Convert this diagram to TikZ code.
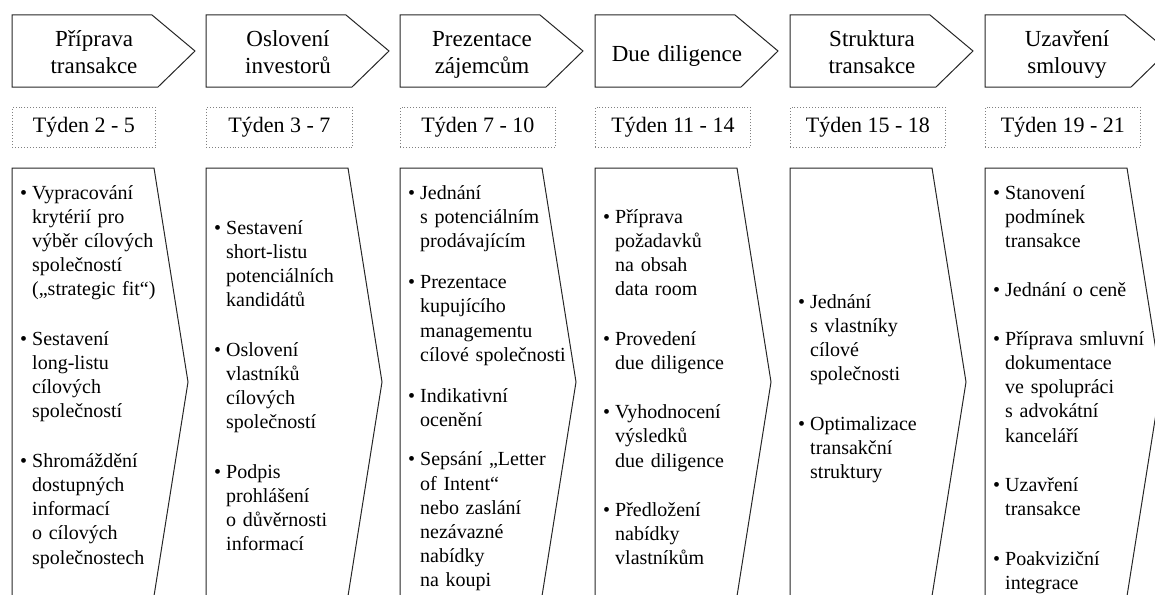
\documentclass[tikz,border=0pt]{standalone}
\usepackage{fontspec}
\setmainfont{Liberation Serif}
% one bullet point, lines broken with \\
\newcommand\itm[1]{\noindent\makebox[12pt][l]{\textbullet}\begin{tabular}[t]{@{}l@{}}#1\end{tabular}\par}
\tikzset{
  krok/.style={draw=black!85, line width=1pt},
  nadpis/.style={font=\fontsize{23}{27}\selectfont, text width=160pt, align=center,
    anchor=base, inner sep=0pt},
  tyden/.style={draw=gray, dotted, line width=0.9pt, minimum height=40pt, anchor=north west,
    inner sep=0pt, font=\fontsize{22}{26}\selectfont},
  obsah/.style={font=\fontsize{20}{24.2}\selectfont, text width=172pt, align=left,
    anchor=base west, inner sep=0pt}
}
\begin{document}
\begin{tikzpicture}[x=1pt,y=-1pt]
        \clip (0,0) rectangle (1155,594);
        % phases, weeks and chevrons
        \foreach \x/\w/\yb/\n/\nad/\tyd in {12/143/47/1/{Příprava\\transakce}/{Týden 2 - 5},
            206/146/47/2/{Oslovení\\investorů}/{Týden 3 - 7},
            400/155/47/3/{Prezentace\\zájemcům}/{Týden 7 - 10},
            595/155/61/4/{Due diligence}/{Týden 11 - 14},
            790/155/47/5/{Struktura\\transakce}/{Týden 15 - 18},
            985/155/47/6/{Uzavření\\smlouvy}/{Týden 19 - 21}} {
          \draw[krok] (\x,15) -- (\x+140,15) -- (\x+183,51) -- (\x+146,87) -- (\x,87) -- cycle;
          \node[nadpis] (h\n) at (\x+82,\yb) {\nad};
          \node[tyden, minimum width=\w pt] (t\n) at (\x,107) {\tyd};
          \draw[krok] (\x,168) -- (\x+142,168) -- (\x+176,382) -- (\x+142,596) -- (\x,596) -- cycle;
        }
        % activities
        \node[obsah] (b1) at (20,199) {%
          \itm{Vypracování\\krytérií pro\\výběr cílových\\společností\\(„strategic fit“)}\vspace{24.2pt}
          \itm{Sestavení\\long-listu\\cílových\\společností}\vspace{24.2pt}
          \itm{Shromáždění\\dostupných\\informací\\o cílových\\společnostech}};
        \node[obsah] (b2) at (214,234) {%
          \itm{Sestavení\\short-listu\\potenciálních\\kandidátů}\vspace{24.2pt}
          \itm{Oslovení\\vlastníků\\cílových\\společností}\vspace{24.2pt}
          \itm{Podpis\\prohlášení\\o důvěrnosti\\informací}};
        \node[obsah] (b3) at (408,199) {%
          \itm{Jednání\\s potenciálním\\prodávajícím}\vspace{16pt}
          \itm{Prezentace\\kupujícího\\managementu\\cílové společnosti}\vspace{16pt}
          \itm{Indikativní\\ocenění}\vspace{14pt}
          \itm{Sepsání „Letter\\of Intent“\\nebo zaslání\\nezávazné\\nabídky\\na koupi}};
        \node[obsah] (b4) at (603,223) {%
          \itm{Příprava\\požadavků\\na obsah\\data room}\vspace{24.2pt}
          \itm{Provedení\\due diligence}\vspace{24.2pt}
          \itm{Vyhodnocení\\výsledků\\due diligence}\vspace{24.2pt}
          \itm{Předložení\\nabídky\\vlastníkům}};
        \node[obsah] (b5) at (798,308) {%
          \itm{Jednání\\s vlastníky\\cílové\\společnosti}\vspace{24.2pt}
          \itm{Optimalizace\\transakční\\struktury}};
        \node[obsah] (b6) at (993,199) {%
          \itm{Stanovení\\podmínek\\transakce}\vspace{24.2pt}
          \itm{Jednání o ceně}\vspace{24.2pt}
          \itm{Příprava smluvní\\dokumentace\\ve spolupráci\\s advokátní\\kanceláří}\vspace{24.2pt}
          \itm{Uzavření\\transakce}\vspace{24.2pt}
          \itm{Poakviziční\\integrace}};
\end{tikzpicture}
\end{document}
